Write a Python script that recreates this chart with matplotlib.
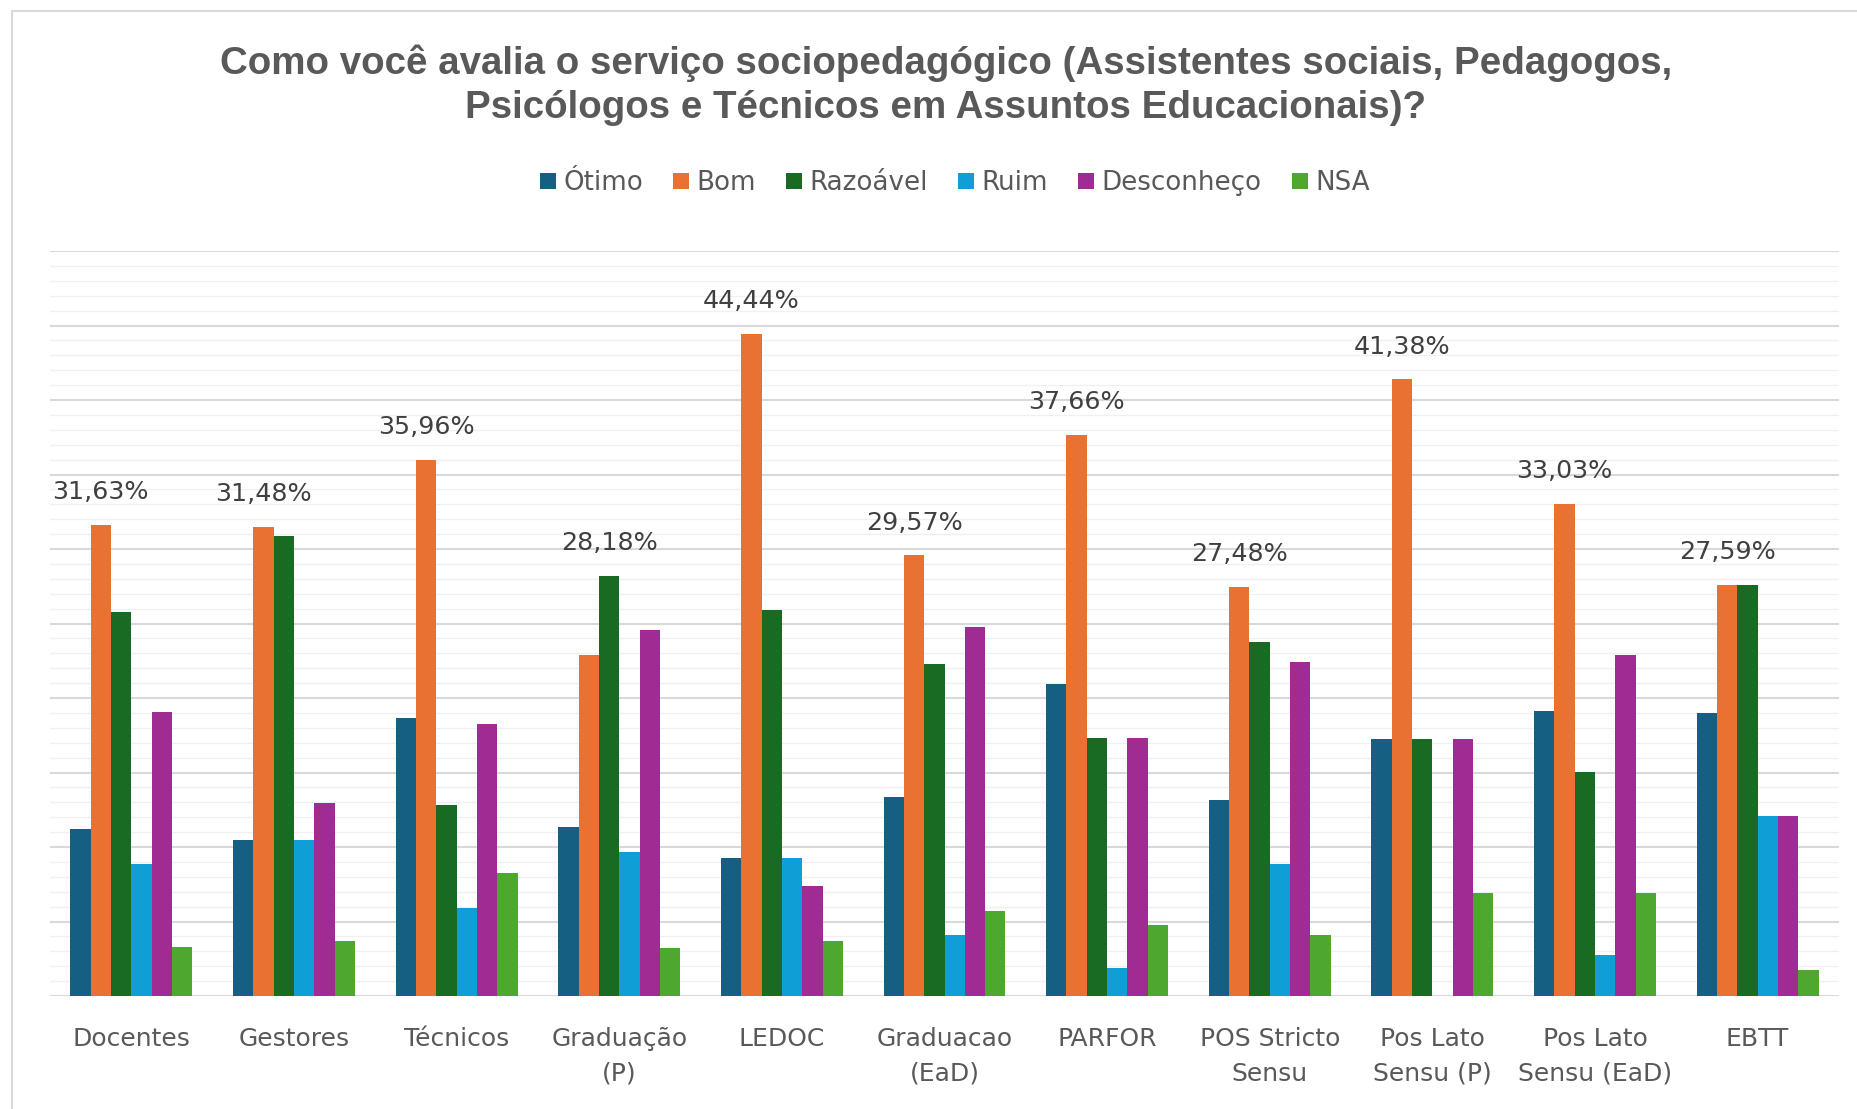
import numpy as np
import matplotlib
matplotlib.use('Agg')
import matplotlib.pyplot as plt
from matplotlib.patches import Patch
from matplotlib.lines import Line2D

# categorias e séries
categorias = ['Docentes', 'Gestores', 'Técnicos', 'Graduação\n(P)', 'LEDOC',
              'Graduacao\n(EaD)', 'PARFOR', 'POS Stricto\nSensu',
              'Pos Lato\nSensu (P)', 'Pos Lato\nSensu (EaD)', 'EBTT']
series = ['Ótimo', 'Bom', 'Razoável', 'Ruim', 'Desconheço', 'NSA']
cores = ['#156082', '#E97132', '#196B24', '#0F9ED5', '#A02B93', '#4EA72E']

otimo = [11.23, 10.49, 18.68, 11.34, 9.26, 13.38, 20.96, 13.15, 17.24, 19.13, 18.97]
bom = [31.63, 31.48, 35.96, 22.86, 44.44, 29.57, 37.66, 27.48, 41.38, 33.03, 27.59]
razoavel = [25.79, 30.86, 12.82, 28.18, 25.93, 22.30, 17.32, 23.76, 17.24, 15.03, 27.59]
ruim = [8.86, 10.49, 5.93, 9.66, 9.26, 4.09, 1.86, 8.86, 0.0, 2.75, 12.07]
desconheco = [19.04, 12.96, 18.23, 24.56, 7.41, 24.77, 17.32, 22.42, 17.24, 22.86, 12.07]
nsa = [3.31, 3.70, 8.28, 3.20, 3.70, 5.68, 4.79, 4.09, 6.90, 6.91, 1.72]

titulo = ('Como você avalia o serviço sociopedagógico (Assistentes sociais, Pedagogos,\n'
          'Psicólogos e Técnicos em Assuntos Educacionais)?')

dados = np.array([otimo, bom, razoavel, ruim, desconheco, nsa])

W, H = 1858, 1109
fig = plt.figure(figsize=(W / 100, H / 100), dpi=100)
ax = fig.add_axes([50 / W, 1 - 996 / H, (1839 - 50) / W, (996 - 251) / H])

x = np.arange(len(categorias))
bw = 0.125
for i, (nome, cor) in enumerate(zip(series, cores)):
    ax.bar(x + (i - 2.5) * bw, dados[i], width=bw, color=cor, linewidth=0,
           label=nome, zorder=3)

# rótulo só no maior valor de cada grupo
for j in range(len(categorias)):
    k = int(np.argmax(dados[:, j]))
    v = dados[k, j]
    ax.annotate(f'{v:.2f}%'.replace('.', ','), (x[j] + (k - 2.5) * bw, v),
                xytext=(0, 15), textcoords='offset points', ha='center',
                va='bottom', fontsize=18.3, color='#404040', zorder=4)

ax.set_xlim(-0.5, len(categorias) - 0.5)
ax.set_ylim(0, 50)
ax.set_yticks(np.arange(0, 51, 5))
ax.set_yticks(np.arange(0, 51, 1), minor=True)
ax.grid(axis='y', which='major', color='#D9D9D9', linewidth=1.5, zorder=1)
ax.grid(axis='y', which='minor', color='#F0F0F0', linewidth=1.0, zorder=0)
ax.set_axisbelow(True)
ax.tick_params(axis='y', which='both', left=False, labelleft=False)
ax.set_xticks(x)
ax.set_xticklabels(categorias, fontsize=18, color='#595959', linespacing=1.6)
ax.tick_params(axis='x', length=0, pad=22)
for s in ax.spines.values():
    s.set_visible(False)

fig.text(946 / W, 1 - 118 / H, titulo, ha='center', va='baseline',
         fontsize=27.7, fontweight='bold', color='#595959',
         family='Liberation Sans', linespacing=1.3)

handles = [Patch(facecolor=c, edgecolor='none') for c in cores]
leg = fig.legend(handles, series, loc='center', bbox_to_anchor=(955 / W, 1 - 183 / H),
                 ncol=6, frameon=False, fontsize=18.8, handlelength=0.6,
                 handleheight=0.6, handletextpad=0.3, columnspacing=1.15)
for t in leg.get_texts():
    t.set_color('#595959')

# moldura do gráfico
fig.add_artist(Line2D([12 / W, 12 / W, 1.0], [0.0, 1 - 11 / H, 1 - 11 / H],
                      transform=fig.transFigure, color='#D9D9D9', linewidth=1.5))

fig.savefig('out.png', dpi=100)
